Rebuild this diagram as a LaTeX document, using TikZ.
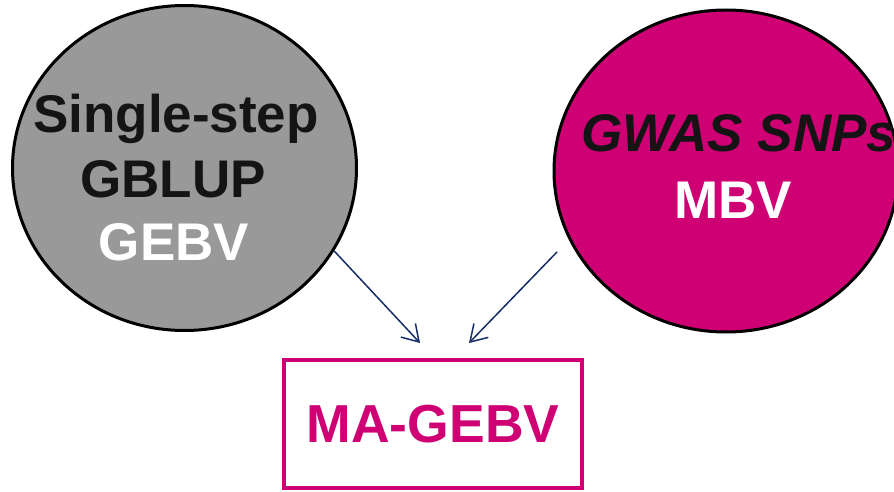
\documentclass[tikz,border=0pt]{standalone}
\usepackage{fontspec}
\setmainfont{Liberation Sans}
\usetikzlibrary{shapes.geometric,arrows.meta}
\definecolor{magentaPT}{RGB}{206,0,116}
\definecolor{grayfill}{RGB}{153,153,153}
\definecolor{navyarrow}{RGB}{22,45,102}
\definecolor{darktext}{RGB}{20,20,20}
\tikzset{
  bubble/.style={ellipse, draw=black, line width=3pt, inner sep=0pt},
  bigtext/.style={font=\fontsize{53}{63}\selectfont\bfseries, inner sep=0pt, anchor=base},
  resultbox/.style={draw=magentaPT, line width=4.5pt, minimum width=298pt, minimum height=128pt, inner sep=0pt,
    text=magentaPT, font=\fontsize{53.5}{63}\selectfont\bfseries},
  link/.style={draw=navyarrow, line width=1.5pt, -{Straight Barb[length=16pt,width=20pt,line width=1.5pt]}}
}
\begin{document}
\begin{tikzpicture}[x=1pt,y=1pt]
\useasboundingbox (0,0) rectangle (894,491);
\clip (0,0) rectangle (894,491);
% left bubble
\node[bubble, fill=grayfill, minimum width=344pt, minimum height=325pt] (L) at (184.5,323) {};
\node[bigtext, text=darktext] (l1) at (176,358) {Single-step};
\node[bigtext, text=darktext] (l2) at (173,294) {GBLUP};
\node[bigtext, text=white] (l3) at (174,231) {GEBV};
% right bubble
\node[bubble, fill=magentaPT, minimum width=344pt, minimum height=322pt] (R) at (726,320) {};
\node[bigtext, text=darktext, anchor=base west, font=\fontsize{53}{63}\selectfont\bfseries\itshape] (r1) at (581,339) {GWAS SNPs};
\node[bigtext, text=white] (r2) at (733,273) {MBV};
% result box
\node[resultbox] (M) at (433,67) {MA-GEBV};
% arrow ends
\coordinate (rs) at (557,239);
\coordinate (le) at (420,148);
\coordinate (re) at (469,148);
\draw[link] (L.-29.5) -- (le);
\draw[link] (rs) -- (re);
\end{tikzpicture}
\end{document}
